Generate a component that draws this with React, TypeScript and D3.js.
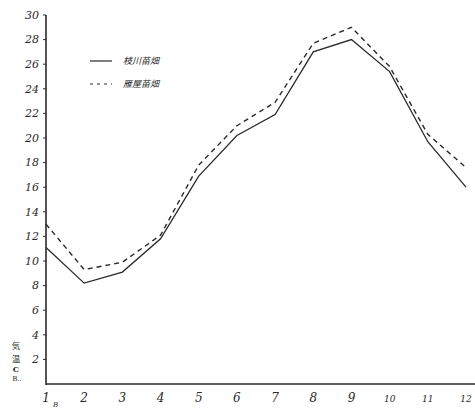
import React from 'react';
import * as d3 from 'd3';

// months on the x axis
const months = [1, 2, 3, 4, 5, 6, 7, 8, 9, 10, 11, 12];
// air temperature (°C), 枝川苗畑 — solid line
const edagawa = [11.1, 8.2, 9.1, 11.8, 16.9, 20.2, 21.9, 27.0, 28.0, 25.4, 19.7, 16.0];
// air temperature (°C), 雁屋苗畑 — dashed line
const kariya = [13.0, 9.3, 9.9, 12.1, 17.8, 21.0, 22.9, 27.7, 29.0, 25.8, 20.3, 17.6];
const yTicks = [2, 4, 6, 8, 10, 12, 14, 16, 18, 20, 22, 24, 26, 28, 30];
const legendNames = ['枝川苗畑', '雁屋苗畑'];
const yTitle = ['気', '温'];

const W = 475, H = 409;
const ink = '#2a2a2a';
const hand = '"DejaVu Serif", serif';
const jp = '"Noto Sans CJK JP", sans-serif';

export default function App() {
  const x = d3.scaleLinear().domain([1, 12]).range([46, 466]);
  const y = d3.scaleLinear().domain([0, 30]).range([384, 15]);

  const line = d3
    .line<number>()
    .x((d, i) => x(months[i]))
    .y(d => y(d));

  return (
    <svg
      width={W}
      height={H}
      style={{ position: 'absolute', left: 0, top: 0, background: '#fff' }}
    >
      {/* axes */}
      <line x1={x(1)} x2={x(1)} y1={y(30)} y2={y(0) + 1} stroke={ink} strokeWidth={1.6} />
      <line x1={x(1)} x2={W} y1={y(0)} y2={y(0)} stroke={ink} strokeWidth={1.6} />

      {yTicks.map(t => (
        <g key={t} transform={`translate(${x(1)}, ${y(t)})`}>
          <line x1={-3} x2={0} y1={0} y2={0} stroke={ink} strokeWidth={1} />
          <text
            x={-7}
            dy="0.35em"
            textAnchor="end"
            fontSize={11}
            fontStyle="italic"
            fontFamily={hand}
            fill={ink}
          >
            {t}
          </text>
        </g>
      ))}

      {months.map(m => (
        <text
          key={m}
          x={x(m)}
          y={402}
          textAnchor="middle"
          fontSize={m >= 10 ? 9 : 12}
          fontStyle="italic"
          fontFamily={hand}
          fill={ink}
        >
          {m}
        </text>
      ))}
      <text x={53} y={407} fontSize={7} fontStyle="italic" fontFamily={hand} fill={ink}>B</text>

      {/* y axis title, written vertically */}
      {yTitle.map((c, i) => (
        <text
          key={c}
          x={16}
          y={349 + i * 13}
          textAnchor="middle"
          fontSize={8.5}
          fontFamily={jp}
          fill={ink}
        >
          {c}
        </text>
      ))}
      <text x={16} y={372} textAnchor="middle" fontSize={8} fontWeight="bold" fontFamily={hand} fill={ink}>C</text>
      <text x={17} y={381} textAnchor="middle" fontSize={7} fontFamily={hand} fill={ink}>B..</text>

      {/* series */}
      <path d={line(edagawa) ?? ''} fill="none" stroke={ink} strokeWidth={1.3} />
      <path
        d={line(kariya) ?? ''}
        fill="none"
        stroke={ink}
        strokeWidth={1.4}
        strokeDasharray="5,4"
      />

      {/* legend */}
      {legendNames.map((name, i) => (
        <g key={name} transform={`translate(90, ${61 + i * 23})`}>
          <line
            x1={0}
            x2={22}
            y1={0}
            y2={0}
            stroke={ink}
            strokeWidth={1.2}
            strokeDasharray={i === 1 ? '3,4' : undefined}
          />
          <text
            x={33}
            dy="0.35em"
            fontSize={9}
            fontStyle="italic"
            fontFamily={jp}
            fill={ink}
          >
            {name}
          </text>
        </g>
      ))}
    </svg>
  );
}
